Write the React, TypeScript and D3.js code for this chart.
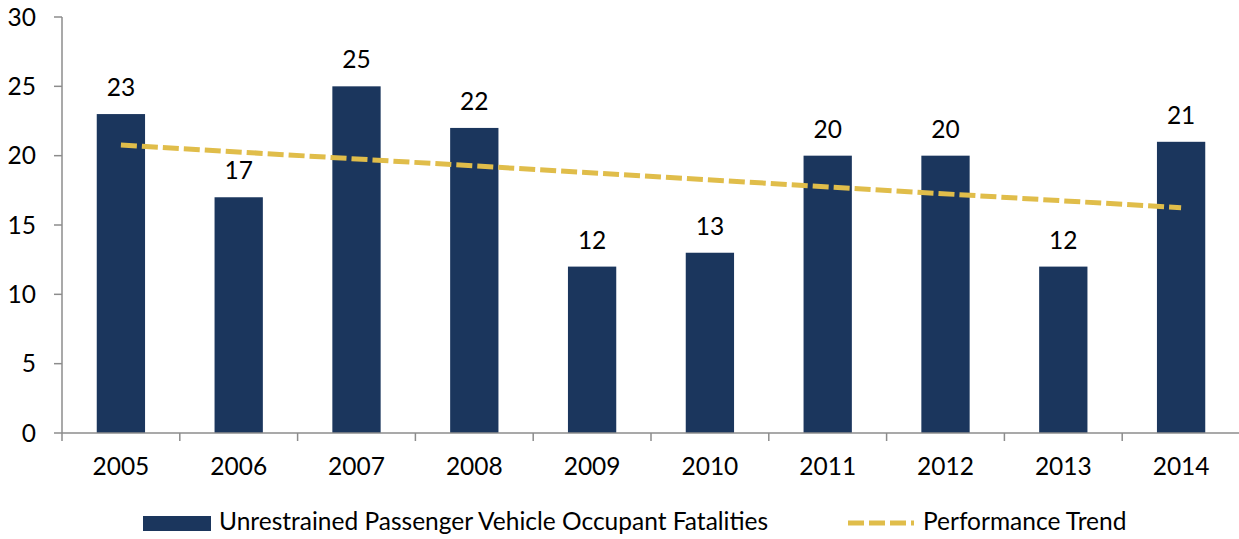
import React from "react";
import * as d3 from "d3";

const years = ["2005", "2006", "2007", "2008", "2009", "2010", "2011", "2012", "2013", "2014"];
const fatalities = [23, 17, 25, 22, 12, 13, 20, 20, 12, 21];
const trendYears = ["2005", "2014"];
const trendValues = [20.77, 16.24];
const yTicks = [0, 5, 10, 15, 20, 25, 30];
const barLabel = "Unrestrained Passenger Vehicle Occupant Fatalities";
const trendLabel = "Performance Trend";

const W = 1239;
const H = 539;
const left = 62;
const right = 1240;
const top = 17;
const bottom = 433;
const FONT = "Lato, 'Open Sans', sans-serif";
const FS = 24.5;
const BAR = "#1b365d";
const TREND = "#e0bd4a";
const AXIS = "#8c8c8c";

export default function App() {
  const x = d3.scaleBand<string>().domain(years).range([left, right]).paddingInner(0.59).paddingOuter(0.295);
  const band = d3.scaleBand<string>().domain(years).range([left, right]);
  const y = d3.scaleLinear().domain([0, 30]).range([bottom, top]);
  const line = d3
    .line<number>()
    .x((_, i) => (band(trendYears[i]) as number) + band.bandwidth() / 2)
    .y((v) => y(v));

  return (
    <div style={{ position: "fixed", left: 0, top: 0, width: W, height: H, overflow: "hidden" }}>
      <svg width={W} height={H} style={{ display: "block", fontFamily: FONT }}>
        <rect x={0} y={0} width={W} height={H} fill="#fff" />
        {/* y axis */}
        <line x1={left} x2={left} y1={top} y2={bottom} stroke={AXIS} strokeWidth={1.5} />
        {yTicks.map((t) => (
          <g key={t}>
            <line x1={left - 8} x2={left} y1={y(t)} y2={y(t)} stroke={AXIS} strokeWidth={1.5} />
            <text x={36} y={y(t)} dy="0.36em" textAnchor="end" fontSize={FS} fill="#000">
              {t}
            </text>
          </g>
        ))}
        {/* bars */}
        {years.map((yr, i) => (
          <rect
            key={yr}
            x={x(yr)}
            y={y(fatalities[i])}
            width={x.bandwidth()}
            height={bottom - y(fatalities[i])}
            fill={BAR}
          />
        ))}
        {/* x axis */}
        <line x1={left} x2={right} y1={bottom} y2={bottom} stroke={AXIS} strokeWidth={1.5} />
        {years.map((yr) => (
          <line
            key={"t" + yr}
            x1={band(yr) as number}
            x2={band(yr) as number}
            y1={bottom}
            y2={bottom + 8}
            stroke={AXIS}
            strokeWidth={1.5}
          />
        ))}
        {years.map((yr) => (
          <text
            key={"l" + yr}
            x={(band(yr) as number) + band.bandwidth() / 2}
            y={475}
            textAnchor="middle"
            fontSize={FS}
            fill="#000"
          >
            {yr}
          </text>
        ))}
        {/* value labels */}
        {years.map((yr, i) => (
          <text
            key={"v" + yr}
            x={(band(yr) as number) + band.bandwidth() / 2}
            y={y(fatalities[i]) - 18}
            textAnchor="middle"
            fontSize={FS}
            fill="#000"
          >
            {fatalities[i]}
          </text>
        ))}
        {/* trend */}
        <path d={line(trendValues) || ""} fill="none" stroke={TREND} strokeWidth={5} strokeDasharray="16 5" />
        {/* legend */}
        <rect x={143} y={516} width={68} height={15} fill={BAR} />
        <text x={219} y={530} fontSize={FS} fill="#000">
          {barLabel}
        </text>
        <line x1={848} x2={914} y1={523} y2={523} stroke={TREND} strokeWidth={5} strokeDasharray="16 5" />
        <text x={923} y={530} fontSize={FS} fill="#000">
          {trendLabel}
        </text>
      </svg>
    </div>
  );
}
